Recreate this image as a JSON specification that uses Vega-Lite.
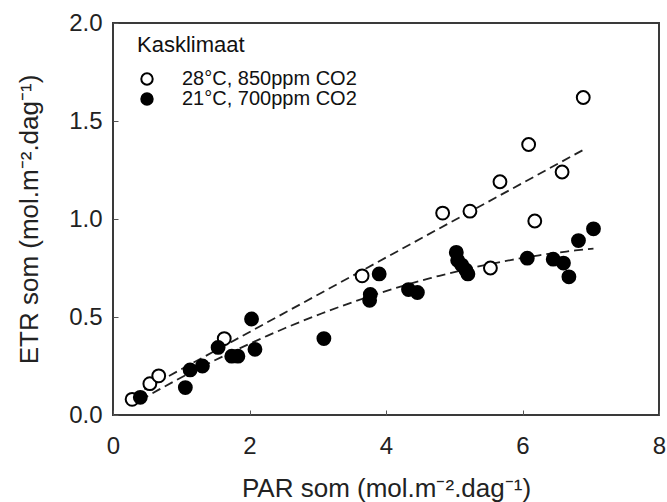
{
  "$schema": "https://vega.github.io/schema/vega-lite/v6.json",
  "width": 546,
  "height": 392,
  "autosize": {"type": "none"},
  "padding": {"left": 113, "top": 23, "right": 8, "bottom": 87},
  "config": {
    "font": "Liberation Sans",
    "view": {"stroke": "#3a3a3a", "strokeWidth": 2},
    "axis": {
      "domain": false,
      "grid": false,
      "tickSize": -5,
      "tickColor": "#555",
      "tickWidth": 1,
      "labelFontSize": 24,
      "labelColor": "#222",
      "labelFlush": false,
      "labelOverlap": false,
      "labelBound": false,
      "titleFontSize": 26,
      "titleFontWeight": "normal",
      "titleColor": "#222"
    },
    "axisX": {"labelPadding": 24, "titleY": 81, "titleBaseline": "alphabetic"},
    "axisY": {"labelPadding": 16, "titleX": -76, "titleBaseline": "alphabetic"}
  },
  "data": {
    "values": [
      {"series": "28°C, 850ppm CO2", "par": 0.28, "etr": 0.08},
      {"series": "28°C, 850ppm CO2", "par": 0.54, "etr": 0.16},
      {"series": "28°C, 850ppm CO2", "par": 0.67, "etr": 0.2},
      {"series": "28°C, 850ppm CO2", "par": 1.63, "etr": 0.39},
      {"series": "28°C, 850ppm CO2", "par": 3.65, "etr": 0.71},
      {"series": "28°C, 850ppm CO2", "par": 4.83, "etr": 1.03},
      {"series": "28°C, 850ppm CO2", "par": 5.23, "etr": 1.04},
      {"series": "28°C, 850ppm CO2", "par": 5.53, "etr": 0.75},
      {"series": "28°C, 850ppm CO2", "par": 5.67, "etr": 1.19},
      {"series": "28°C, 850ppm CO2", "par": 6.09, "etr": 1.38},
      {"series": "28°C, 850ppm CO2", "par": 6.18, "etr": 0.99},
      {"series": "28°C, 850ppm CO2", "par": 6.58, "etr": 1.24},
      {"series": "28°C, 850ppm CO2", "par": 6.89, "etr": 1.62},
      {"series": "21°C, 700ppm CO2", "par": 0.4, "etr": 0.09},
      {"series": "21°C, 700ppm CO2", "par": 1.06, "etr": 0.14},
      {"series": "21°C, 700ppm CO2", "par": 1.13, "etr": 0.23},
      {"series": "21°C, 700ppm CO2", "par": 1.31, "etr": 0.25},
      {"series": "21°C, 700ppm CO2", "par": 1.54, "etr": 0.345},
      {"series": "21°C, 700ppm CO2", "par": 1.74, "etr": 0.3},
      {"series": "21°C, 700ppm CO2", "par": 1.83, "etr": 0.3},
      {"series": "21°C, 700ppm CO2", "par": 2.03, "etr": 0.49},
      {"series": "21°C, 700ppm CO2", "par": 2.08, "etr": 0.335},
      {"series": "21°C, 700ppm CO2", "par": 3.09, "etr": 0.39},
      {"series": "21°C, 700ppm CO2", "par": 3.76, "etr": 0.585},
      {"series": "21°C, 700ppm CO2", "par": 3.77, "etr": 0.615},
      {"series": "21°C, 700ppm CO2", "par": 3.9, "etr": 0.72},
      {"series": "21°C, 700ppm CO2", "par": 4.33, "etr": 0.64},
      {"series": "21°C, 700ppm CO2", "par": 4.46, "etr": 0.625},
      {"series": "21°C, 700ppm CO2", "par": 5.03, "etr": 0.83},
      {"series": "21°C, 700ppm CO2", "par": 5.05, "etr": 0.79},
      {"series": "21°C, 700ppm CO2", "par": 5.11, "etr": 0.765},
      {"series": "21°C, 700ppm CO2", "par": 5.17, "etr": 0.74},
      {"series": "21°C, 700ppm CO2", "par": 5.2, "etr": 0.72},
      {"series": "21°C, 700ppm CO2", "par": 6.07, "etr": 0.8},
      {"series": "21°C, 700ppm CO2", "par": 6.45, "etr": 0.795},
      {"series": "21°C, 700ppm CO2", "par": 6.6, "etr": 0.775},
      {"series": "21°C, 700ppm CO2", "par": 6.68, "etr": 0.705},
      {"series": "21°C, 700ppm CO2", "par": 6.82, "etr": 0.89},
      {"series": "21°C, 700ppm CO2", "par": 7.04, "etr": 0.95}
    ]
  },
  "encoding": {
    "x": {
      "field": "par",
      "type": "quantitative",
      "scale": {"domain": [0, 8], "nice": false, "zero": false},
      "axis": {"values": [0, 2, 4, 6, 8], "title": "PAR som (mol.m⁻².dag⁻¹)"}
    },
    "y": {
      "field": "etr",
      "type": "quantitative",
      "scale": {"domain": [0, 2], "nice": false, "zero": false},
      "axis": {"values": [0, 0.5, 1, 1.5, 2], "format": ".1f", "title": "ETR som (mol.m⁻².dag⁻¹)"}
    }
  },
  "layer": [
    {
      "transform": [
        {"filter": "datum.series === '28°C, 850ppm CO2'"},
        {"regression": "etr", "on": "par", "method": "linear"}
      ],
      "mark": {"type": "line", "color": "#222", "strokeDash": [9, 5], "strokeWidth": 1.8}
    },
    {
      "transform": [
        {"filter": "datum.series === '21°C, 700ppm CO2'"},
        {"regression": "etr", "on": "par", "method": "poly", "order": 2}
      ],
      "mark": {"type": "line", "color": "#222", "strokeDash": [9, 5], "strokeWidth": 1.8}
    },
    {
      "mark": {"type": "point", "shape": "circle", "filled": true, "size": 165, "stroke": "black", "strokeWidth": 2, "opacity": 1},
      "encoding": {
        "fill": {
          "field": "series",
          "type": "nominal",
          "scale": {"domain": ["28°C, 850ppm CO2", "21°C, 700ppm CO2"], "range": ["white", "black"]},
          "legend": {
            "orient": "none",
            "legendX": 24,
            "legendY": 12,
            "title": "Kasklimaat",
            "titleFontSize": 22,
            "titleFontWeight": "normal",
            "titleColor": "#111",
            "titlePadding": 12,
            "labelFontSize": 20,
            "labelColor": "#111",
            "labelOffset": 25,
            "labelLimit": 0,
            "symbolStrokeColor": "black",
            "symbolStrokeWidth": 2,
            "symbolSize": 130,
            "rowPadding": 0,
            "padding": 0
          }
        }
      }
    }
  ]
}
